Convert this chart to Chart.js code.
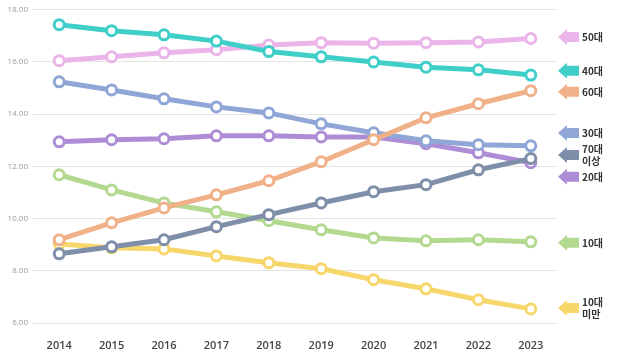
<!DOCTYPE html>
<html><head><meta charset="utf-8">
<script src="https://cdn.jsdelivr.net/npm/chart.js@4.4.1/dist/chart.umd.min.js"></script>
<style>html,body{margin:0;padding:0;background:#fff}#wrap{width:617px;height:353px}</style>
</head><body><div id="wrap"><canvas id="c" width="617" height="353"></canvas></div>
<script>
const years = ['2014','2015','2016','2017','2018','2019','2020','2021','2022','2023'];
const s40 = [17.43,17.20,17.04,16.80,16.40,16.20,16.00,15.80,15.70,15.50];
const s50 = [16.05,16.20,16.35,16.47,16.65,16.74,16.72,16.74,16.77,16.90];
const s30 = [15.24,14.93,14.59,14.28,14.05,13.63,13.29,12.98,12.83,12.79];
const s20 = [12.94,13.02,13.06,13.17,13.17,13.13,13.13,12.87,12.52,12.14];
const s60 = [9.19,9.84,10.41,10.91,11.45,12.18,13.02,13.86,14.40,14.90];
const s70 = [8.65,8.92,9.19,9.69,10.15,10.60,11.03,11.30,11.87,12.30];
const s10 = [11.68,11.10,10.60,10.26,9.92,9.57,9.26,9.15,9.19,9.11];
const s0 = [9.03,8.88,8.84,8.57,8.31,8.08,7.66,7.31,6.89,6.54];
const seriesNames = [['50대'],['40대'],['60대'],['30대'],['70대','이상'],['20대'],['10대'],['10대','미만']];
const labelAnchors = [16.96,15.66,14.86,13.28,12.44,11.60,9.07,6.57];
const yTicks = [6,8,10,12,14,16,18];

const colors = {
  s50:'#ebb5ea', s40:'#3fcfc8', s60:'#f0b088', s30:'#8fa6d6',
  s70:'#7f8fa9', s20:'#ae8dd7', s10:'#b3d991', s0:'#f7d66b'
};
function ds(label, data, color){
  return {label, data, borderColor: color, backgroundColor:'#fff',
    borderWidth:5, pointRadius:5, pointBorderWidth:3, pointBackgroundColor:'#fff',
    pointBorderColor: color, tension:0};
}
const datasets = [
  ds('70대 이상', s70, colors.s70),
  ds('60대', s60, colors.s60),
  ds('40대', s40, colors.s40),
  ds('30대', s30, colors.s30),
  ds('50대', s50, colors.s50),
  ds('20대', s20, colors.s20),
  ds('10대', s10, colors.s10),
  ds('10대 미만', s0, colors.s0)
];
const legendColors = [colors.s50,colors.s40,colors.s60,colors.s30,colors.s70,colors.s20,colors.s10,colors.s0];

const arrowLegend = {
  id:'arrowLegend',
  afterDraw(chart){
    const ctx = chart.ctx, y = chart.scales.y;
    ctx.save();
    seriesNames.forEach((lines,i)=>{
      const py = y.getPixelForValue(labelAnchors[i]);
      const x0 = 558;
      ctx.fillStyle = legendColors[i];
      ctx.beginPath();
      ctx.moveTo(x0, py);
      ctx.lineTo(x0+9, py-8);
      ctx.lineTo(x0+9, py-5);
      ctx.lineTo(x0+21, py-5);
      ctx.lineTo(x0+21, py+5);
      ctx.lineTo(x0+9, py+5);
      ctx.lineTo(x0+9, py+8);
      ctx.closePath();
      ctx.fill();
      ctx.fillStyle = '#333';
      ctx.font = 'bold 10px "Noto Sans CJK KR"';
      ctx.textBaseline = 'middle';
      ctx.textAlign = 'left';
      if (lines.length === 1) {
        ctx.fillText(lines[0], x0+24, py);
      } else {
        ctx.fillText(lines[0], x0+24, py-6);
        ctx.fillText(lines[1], x0+24, py+6);
      }
    });
    ctx.restore();
  }
};

new Chart(document.getElementById('c'), {
  type:'line',
  data:{labels: years, datasets},
  options:{
    responsive:false, animation:false,
    layout:{padding:{top:6,right:60,left:0,bottom:0}},
    plugins:{legend:{display:false}, tooltip:{enabled:false}},
    scales:{
      x:{
        offset:true,
        grid:{display:false},
        border:{display:false},
        ticks:{color:'#444', font:{family:'"Open Sans","Noto Sans CJK KR"', size:11, weight:'600'}, padding:8, maxRotation:0},
        afterFit(s){ s.height = 30; }
      },
      y:{
        min:6, max:18,
        afterBuildTicks(s){ s.ticks = yTicks.map(v=>({value:v})); },
        grid:{color:'#e4e4e4', lineWidth:1, drawTicks:false},
        border:{display:false},
        ticks:{color:'#999', font:{family:'"Open Sans"', size:8}, padding:5, callback:v=>Number(v).toFixed(2)},
        afterFit(s){ s.width = 33; }
      }
    }
  },
  plugins:[arrowLegend]
});
</script></body></html>
